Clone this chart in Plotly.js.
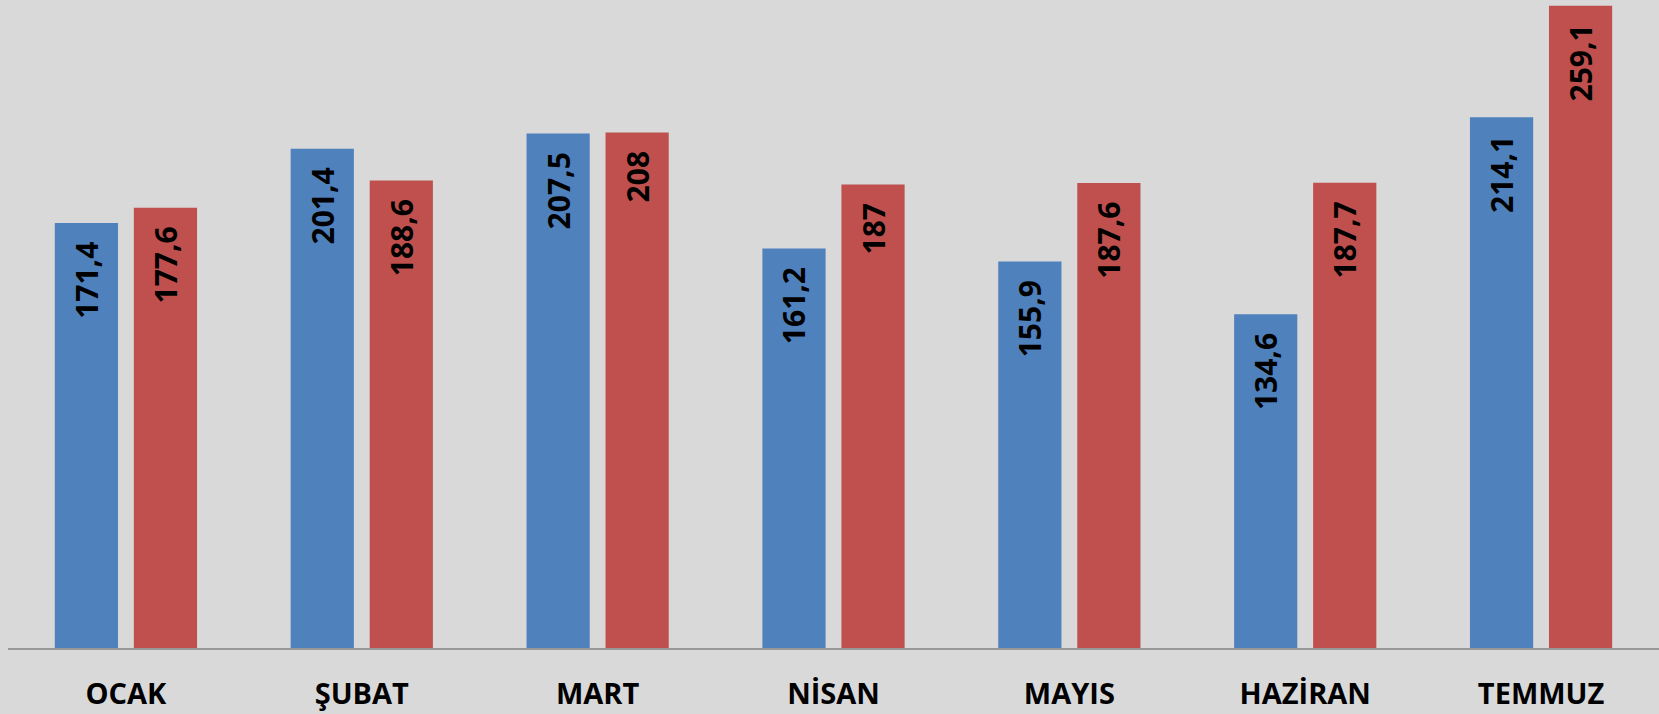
<!DOCTYPE html>
<html>
<head>
<meta charset="utf-8">
<script src="https://cdn.plot.ly/plotly-3.0.1.min.js"></script>
<style>
html,body{margin:0;padding:0;background:#d9d9d9;}
#chart{width:1659px;height:714px;}
</style>
</head>
<body>
<div id="chart"></div>
<script>
const months = ["OCAK", "ŞUBAT", "MART", "NİSAN", "MAYIS", "HAZİRAN", "TEMMUZ"];
const series1 = [171.4, 201.4, 207.5, 161.2, 155.9, 134.6, 214.1];
const series2 = [177.6, 188.6, 208, 187, 187.6, 187.7, 259.1];

function fmt(v) { return String(v).replace('.', ',') + '\u00a0\u00a0'; }

const common = {
  type: 'bar',
  x: months,
  textposition: 'inside',
  insidetextanchor: 'end',
  textangle: -90,
  textfont: {family: 'Open Sans, sans-serif', size: 30, color: '#000000', weight: 'bold'},
  constraintext: 'none',
  hoverinfo: 'skip'
};

const data = [
  Object.assign({}, common, {y: series1, text: series1.map(fmt), marker: {color: '#4f81bd'}}),
  Object.assign({}, common, {y: series2, text: series2.map(fmt), marker: {color: '#c0504d'}})
];

const layout = {
  width: 1659, height: 714,
  margin: {l: 8, r: 0, t: 0, b: 66},
  paper_bgcolor: '#d9d9d9',
  plot_bgcolor: '#d9d9d9',
  showlegend: false,
  barmode: 'group',
  bargap: 0.33,
  bargroupgap: 0.2,
  xaxis: {
    showline: true, linecolor: '#999999', linewidth: 2,
    ticks: '', showgrid: false, zeroline: false,
    tickfont: {family: 'Open Sans, sans-serif', size: 29, color: '#000000', weight: 'bold'},
    ticklabelstandoff: 19
  },
  yaxis: {
    range: [0, 261.4], visible: false, showgrid: false, zeroline: false
  }
};

Plotly.newPlot('chart', data, layout, {displayModeBar: false, staticPlot: true});
</script>
</body>
</html>
